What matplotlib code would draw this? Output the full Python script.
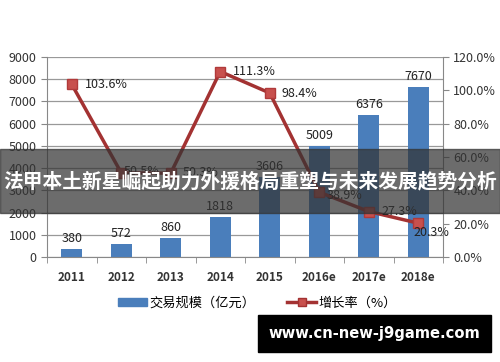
import matplotlib.pyplot as plt
from matplotlib.patches import Rectangle, Patch
from matplotlib.lines import Line2D
import numpy as np

plt.rcParams['font.family'] = ['Noto Sans CJK SC', 'DejaVu Sans']

years = ['2011', '2012', '2013', '2014', '2015', '2016e', '2017e', '2018e']
scale = [380, 572, 860, 1818, 3606, 5009, 6376, 7670]
growth = [103.6, 50.5, 50.3, 111.3, 98.4, 38.9, 27.3, 20.3]
banner_title = '法甲本土新星崛起助力外援格局重塑与未来发展趋势分析'
site = 'www.cn-new-j9game.com'

# label offsets for the growth labels (pixels)
label_off = [(13, 0), (2, 1), (12, 1), (13, 0), (12, 0), (7, -3), (13, 0), (-5, -9)]

fig = plt.figure(figsize=(5, 3.62), dpi=100)
ax = fig.add_axes([47 / 500, 105 / 362, 396 / 500, 200 / 362])
x = np.arange(len(years))

ax.bar(x, scale, width=0.42, color='#4a7ebb', zorder=2)
for xi, v in zip(x, scale):
    ax.annotate(str(v), (xi, v), xytext=(0, 4), textcoords='offset pixels',
                ha='center', va='bottom', fontsize=9, color='#222222')

ax.set_xlim(-0.5, len(years) - 0.5)
ax.set_ylim(0, 9000)
ax.set_yticks(range(0, 9001, 1000))
ax.yaxis.grid(True, color='#999999', linewidth=0.9, zorder=0)
ax.set_axisbelow(True)
ax.set_xticks(x)
ax.set_xticklabels(years, fontsize=8.5, fontweight='bold', color='#333333')
ax.set_xticks(np.arange(-0.5, len(years)), minor=True)
ax.tick_params(axis='x', which='major', length=0, pad=10)
ax.tick_params(axis='x', which='minor', length=4, color='#888888')
ax.tick_params(axis='y', length=4, color='#888888', labelsize=9, labelcolor='#333333')
for s in ['top', 'right']:
    ax.spines[s].set_visible(False)
for s in ['left', 'bottom']:
    ax.spines[s].set_color('#888888')

ax2 = ax.twinx()
ax2.plot(x, np.array(growth) / 100, color='#a33232', linewidth=2.5, marker='s',
         markersize=7, markerfacecolor='#c8504d', markeredgecolor='#b03a3a', zorder=3)
for xi, g, off in zip(x, growth, label_off):
    ax2.annotate('%.1f%%' % g, (xi, g / 100), xytext=off, textcoords='offset pixels',
                 ha='left', va='center', fontsize=9, color='#222222')
ax2.set_ylim(0, 1.2)
ax2.set_yticks(np.arange(0, 1.21, 0.2))
ax2.set_yticklabels(['%.1f%%' % (v * 100) for v in np.arange(0, 1.21, 0.2)])
ax2.tick_params(axis='y', length=4, color='#888888', labelsize=9, labelcolor='#333333')
for s in ['top', 'left', 'bottom']:
    ax2.spines[s].set_visible(False)
ax2.spines['right'].set_color('#888888')

handles = [Patch(color='#4a7ebb'),
           Line2D([0], [0], color='#a33232', linewidth=2.5, marker='s',
                  markersize=6, markerfacecolor='#c8504d')]
fig.legend(handles, ['交易规模（亿元）', '增长率（%）'], loc='center',
           bbox_to_anchor=(0.515, 1 - 303 / 362), ncol=2, frameon=False,
           fontsize=9.5, handlelength=2.2, handleheight=0.6, handletextpad=0.2,
           columnspacing=2.4)

# overlay banner
fig.patches.append(Rectangle((0, 149 / 362), 1, 64 / 362, transform=fig.transFigure,
                             color='#333333', alpha=0.72, zorder=10))
fig.text(0.5, 1 - 182 / 362, banner_title, ha='center', va='center', fontsize=14.2,
         fontweight='bold', color='white', zorder=11)

# watermark
fig.patches.append(Rectangle((258 / 500, 10 / 362), 233 / 500, 37 / 362,
                             transform=fig.transFigure, color='black', zorder=10))
fig.text(374.5 / 500, 28.5 / 362, site, ha='center', va='center', fontsize=10.6,
         fontweight='bold', color='white', family='DejaVu Sans', zorder=11)

fig.savefig('out.png', dpi=100)
